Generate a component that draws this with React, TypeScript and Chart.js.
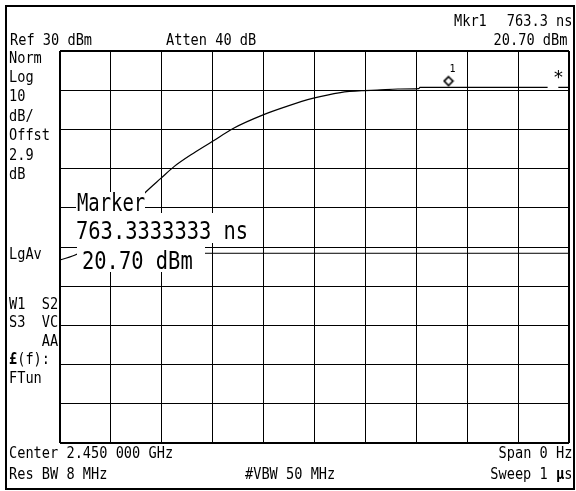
import React, { useEffect, useRef } from "react";
import { Chart, registerables } from "chart.js";

Chart.register(...registerables);

// ---- data ----
const sweepTimeNs = [0, 34, 80, 127, 169, 198, 224, 263, 299, 341, 399, 444, 496, 551, 597, 623, 664, 705, 707, 760, 850, 958, 965, 979, 1000];
const tracePowerDbm = [-23.3, -21.8, -17.5, -11.5, -5.9, -2.5, 0.5, 4.0, 6.9, 10.3, 13.7, 15.8, 17.9, 19.4, 19.9, 20.0, 20.3, 20.4, 20.7, 20.7, 20.7, 20.7, null, 20.7, 20.7];
const displayLineTimeNs = [35, 1000];
const displayLineDbm = [-21.6, -21.6];
const markerTimeNs = [763.3333333];
const markerDbm = [20.7];

const sweepStartNs = 0;
const sweepEndNs = 1000;
const timePerDivNs = 100;
const refLevelDbm = 30;
const dbPerDiv = 10;
const verticalDivs = 10;

const headerLeft = ["Ref 30 dBm", "Atten 40 dB"];
const markerHeader = ["Mkr1", "763.3 ns", "20.70 dBm"];
const leftLabels = ["Norm", "Log", "10", "dB/", "Offst", "2.9", "dB"];
const leftLabelsLower = ["W1  S2", "S3  VC", "    AA"];
const footerTop = ["Center 2.450 000 GHz", "Span 0 Hz"];
const footerBottom = ["Res BW 8 MHz", "#VBW 50 MHz"];
const markerBox = ["Marker", "763.3333333 ns", "20.70 dBm"];

const FONT = '"DejaVu Sans Mono", "Liberation Mono", monospace';
const SM = 16.5;
const SMX = 0.826;
const BG = 25;
const BGX = 0.817;

type TxtProps = {
  x?: number;
  rightEdge?: number;
  base: number;
  fs: number;
  sx: number;
  children: React.ReactNode;
};

function Txt({ x, rightEdge, base, fs, sx, children }: TxtProps) {
  const style: React.CSSProperties = {
    position: "absolute",
    top: base - 0.846 * fs,
    fontFamily: FONT,
    fontSize: fs,
    lineHeight: `${fs}px`,
    whiteSpace: "pre",
    color: "#000",
    transform: `scaleX(${sx})`,
    transformOrigin: rightEdge !== undefined ? "100% 0" : "0 0",
  };
  if (rightEdge !== undefined) style.right = 576 - rightEdge;
  else style.left = x;
  return <div style={style}>{children}</div>;
}

function WhiteBox({ l, t, r, b }: { l: number; t: number; r: number; b: number }) {
  return (
    <div
      style={{ position: "absolute", left: l, top: t, width: r - l, height: b - t, background: "#fff" }}
    />
  );
}

export default function App() {
  const canvasRef = useRef<HTMLCanvasElement | null>(null);

  useEffect(() => {
    const canvas = canvasRef.current;
    if (!canvas) return;

    // marker diamond drawn as point image, sitting just above the trace point
    const img = document.createElement("canvas");
    img.width = 12;
    img.height = 30;
    const c = img.getContext("2d")!;
    c.lineWidth = 1.6;
    c.strokeStyle = "#000";
    c.fillStyle = "#fff";
    c.beginPath();
    c.moveTo(6, 4.2);
    c.lineTo(10.4, 8.6);
    c.lineTo(6, 13);
    c.lineTo(1.6, 8.6);
    c.closePath();
    c.fill();
    c.stroke();

    const traceData = sweepTimeNs.map((t, i) => ({ x: t, y: tracePowerDbm[i] as number | null }));
    const displayData = displayLineTimeNs.map((t, i) => ({ x: t, y: displayLineDbm[i] }));
    const markerData = markerTimeNs.map((t, i) => ({ x: t, y: markerDbm[i] }));

    const edgeWidth = (ctx: any) => (ctx.index === 0 || ctx.index === 10 ? 2 : 1);

    const chart = new Chart(canvas, {
      type: "line",
      data: {
        datasets: [
          {
            data: traceData as any,
            borderColor: "#000",
            borderWidth: 1.2,
            pointRadius: 0,
            spanGaps: false,
            cubicInterpolationMode: "monotone",
          },
          {
            data: displayData as any,
            borderColor: "#000",
            borderWidth: 1,
            pointRadius: 0,
          },
          {
            data: markerData as any,
            showLine: false,
            pointStyle: img as any,
            pointRadius: 6,
            borderColor: "#000",
            backgroundColor: "#fff",
          },
        ],
      },
      options: {
        responsive: false,
        animation: false,
        events: [],
        layout: { padding: { left: 60, right: 2, top: 51, bottom: 48 } },
        plugins: { legend: { display: false }, tooltip: { enabled: false } },
        scales: {
          x: {
            type: "linear",
            min: sweepStartNs,
            max: sweepEndNs,
            ticks: { display: false, stepSize: timePerDivNs },
            grid: { color: "#000", lineWidth: edgeWidth, drawTicks: false },
            border: { display: false },
          },
          y: {
            type: "linear",
            min: refLevelDbm - dbPerDiv * verticalDivs,
            max: refLevelDbm,
            ticks: { display: false, stepSize: dbPerDiv },
            grid: { color: "#000", lineWidth: edgeWidth, drawTicks: false },
            border: { display: false },
          },
        },
      },
    });

    return () => chart.destroy();
  }, []);

  return (
    <div
      style={{
        position: "fixed",
        left: 0,
        top: 0,
        width: 576,
        height: 491,
        background: "#fff",
        overflow: "hidden",
      }}
    >
      <canvas ref={canvasRef} width={576} height={491} style={{ position: "absolute", left: 0, top: 0 }} />
      <div
        style={{
          position: "absolute",
          left: 5,
          top: 5,
          width: 570,
          height: 485,
          boxSizing: "border-box",
          border: "2px solid #000",
        }}
      />

      {/* header */}
      <Txt x={10} base={46} fs={SM} sx={SMX}>{headerLeft[0]}</Txt>
      <Txt x={166} base={46} fs={SM} sx={SMX}>{headerLeft[1]}</Txt>
      <Txt x={454} base={27} fs={SM} sx={SMX}>{markerHeader[0]}</Txt>
      <Txt rightEdge={572} base={27} fs={SM} sx={SMX}>{markerHeader[1]}</Txt>
      <Txt rightEdge={567} base={46} fs={SM} sx={SMX}>{markerHeader[2]}</Txt>

      {/* left annotation column */}
      {leftLabels.map((s, i) => (
        <Txt key={s + i} x={9} base={63.5 + i * 19.4} fs={SM} sx={SMX}>{s}</Txt>
      ))}
      <Txt x={9} base={260} fs={SM} sx={SMX}>LgAv</Txt>
      {leftLabelsLower.map((s, i) => (
        <Txt key={s + i} x={9} base={310 + i * 18.3} fs={SM} sx={SMX}>{s}</Txt>
      ))}
      <Txt x={9} base={365} fs={SM} sx={SMX}><b>£</b>(f):</Txt>
      <Txt x={9} base={383.5} fs={SM} sx={SMX}>FTun</Txt>

      {/* footer */}
      <Txt x={9} base={459} fs={SM} sx={SMX}>{footerTop[0]}</Txt>
      <Txt rightEdge={572} base={459} fs={SM} sx={SMX}>{footerTop[1]}</Txt>
      <Txt x={9} base={480} fs={SM} sx={SMX}>{footerBottom[0]}</Txt>
      <Txt x={245} base={480} fs={SM} sx={SMX}>{footerBottom[1]}</Txt>
      <Txt rightEdge={572} base={480} fs={SM} sx={SMX}>Sweep 1 <b>µ</b>s</Txt>

      {/* marker number and sweep indicator */}
      <Txt x={449.5} base={72} fs={10} sx={1}>1</Txt>
      <Txt x={553} base={83} fs={18} sx={1}>*</Txt>

      {/* marker readout box */}
      <WhiteBox l={76} t={192} r={145} b={213} />
      <WhiteBox l={72} t={213} r={252} b={243} />
      <WhiteBox l={77} t={243} r={205} b={272} />
      <Txt x={76.5} base={211.5} fs={BG} sx={0.755}>{markerBox[0]}</Txt>
      <Txt x={76} base={239} fs={BG} sx={BGX}>{markerBox[1]}</Txt>
      <Txt x={81.5} base={269} fs={BG} sx={BGX}>{markerBox[2]}</Txt>
    </div>
  );
}
